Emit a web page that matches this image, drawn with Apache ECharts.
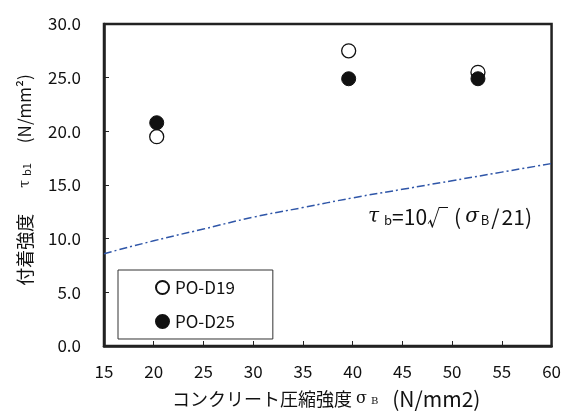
<!DOCTYPE html>
<html>
<head>
<meta charset="utf-8">
<script src="https://cdn.jsdelivr.net/npm/echarts@6/dist/echarts.min.js"></script>
<style>
  html, body { margin: 0; padding: 0; background: #fff; }
  #main { width: 564px; height: 419px; }
</style>
</head>
<body>
<div id="main"></div>
<script>
// 読み取り値
var d19X = [20.3, 39.6, 52.6];
var d19Y = [19.5, 27.5, 25.5];
var d25X = [20.3, 39.6, 52.6];
var d25Y = [20.8, 24.9, 24.9];
// 設計式 τb=10√(σB/21) の線
var curveX = [15, 20, 25, 30, 35, 40, 45, 50, 55, 60];
var curveY = [8.6, 9.8, 10.9, 12.0, 12.9, 13.8, 14.6, 15.4, 16.2, 17.0];

var FONT = "'Noto Sans CJK JP', 'Noto Sans', sans-serif";
var SERIF = "'DejaVu Serif', serif";

function pairs(xs, ys) {
  return xs.map(function (x, i) { return [x, ys[i]]; });
}

var myChart = echarts.init(document.getElementById('main'));
myChart.setOption({
  animation: false,
  backgroundColor: '#fff',
  grid: {
    left: 104, right: 11, top: 24, bottom: 73,
    show: true,
    borderColor: '#222',
    borderWidth: 2.5
  },
  xAxis: {
    type: 'value',
    min: 15, max: 60, interval: 5,
    axisLine: { show: true, lineStyle: { color: '#222', width: 2.5 } },
    axisTick: { show: true, inside: true, length: 5, lineStyle: { color: '#222' } },
    axisLabel: { color: '#111', fontSize: 17, fontFamily: FONT, margin: 17 },
    splitLine: { show: false }
  },
  yAxis: {
    type: 'value',
    min: 0, max: 30, interval: 5,
    axisLine: { show: true, lineStyle: { color: '#222', width: 2.5 } },
    axisTick: { show: true, inside: true, length: 5, lineStyle: { color: '#222' } },
    axisLabel: {
      color: '#111', fontSize: 17, fontFamily: FONT, margin: 23,
      formatter: function (v) { return v.toFixed(1); }
    },
    splitLine: { show: false }
  },
  legend: {
    orient: 'vertical',
    left: 118, top: 270,
    padding: [9, 38, 9, 37],
    backgroundColor: '#fff',
    borderColor: '#333',
    borderWidth: 1,
    borderRadius: 0,
    itemWidth: 13, itemHeight: 13, itemGap: 17,
    textStyle: { fontSize: 17, fontFamily: FONT, color: '#111', padding: [0, 0, 0, 1] },
    data: ['PO-D19', 'PO-D25'],
    z: 10
  },
  series: [
    {
      name: '設計式',
      type: 'line',
      data: pairs(curveX, curveY),
      smooth: true,
      showSymbol: false,
      lineStyle: { color: '#2f56a8', width: 1.5, type: [8, 3, 2, 3] },
      z: 1
    },
    {
      name: 'PO-D19',
      type: 'scatter',
      symbol: 'circle',
      symbolSize: 14,
      data: pairs(d19X, d19Y),
      itemStyle: { color: '#fff', borderColor: '#111', borderWidth: 1.3, opacity: 1 },
      z: 2
    },
    {
      name: 'PO-D25',
      type: 'scatter',
      symbol: 'circle',
      symbolSize: 14,
      data: pairs(d25X, d25Y),
      itemStyle: { color: '#111', borderColor: '#111', borderWidth: 1, opacity: 1 },
      z: 3
    }
  ],
  graphic: [
    {
      type: 'text',
      x: 368, y: 217,
      style: {
        text: '{t|τ}{s|b}{n|=10√}{n2|(}{t|σ}{s2|B}{sl|/}{n|21)}',
        verticalAlign: 'middle',
        rich: {
          t: { fontSize: 20, fontFamily: SERIF, fontStyle: 'italic', fill: '#111' },
          s: { fontSize: 13, fontFamily: FONT, fill: '#111', padding: [6, 0, 0, 5] },
          s2: { fontSize: 13, fontFamily: FONT, fill: '#111', padding: [6, 0, 0, 2] },
          n: { fontSize: 21, fontFamily: FONT, fill: '#111' },
          n2: { fontSize: 21, fontFamily: FONT, fill: '#111', padding: [0, 4, 0, 6] },
          sl: { fontSize: 21, fontFamily: FONT, fill: '#111', padding: [0, 2, 0, 2] }
        }
      },
      z: 60
    },
    {
      type: 'text',
      x: 25, y: 180,
      rotation: Math.PI / 2,
      style: {
        text: '{n|付着強度}{t|τ}{s|b1}{p|(N/mm²)}',
        align: 'center',
        verticalAlign: 'middle',
        rich: {
          n: { fontSize: 18, fontFamily: FONT, fill: '#111' },
          t: { fontSize: 14, fontFamily: SERIF, fill: '#111', padding: [0, 0, 0, 26] },
          s: { fontSize: 11, fontFamily: FONT, fill: '#111', padding: [4, 0, 0, 4] },
          p: { fontSize: 17, fontFamily: FONT, fill: '#111', padding: [0, 0, 0, 20] }
        }
      }
    },
    {
      type: 'text',
      x: 172, y: 399,
      style: {
        text: '{n|コンクリート圧縮強度}{t|σ}{s|B}{p|(N/mm2)}',
        align: 'left',
        verticalAlign: 'middle',
        rich: {
          n: { fontSize: 18, fontFamily: FONT, fill: '#111' },
          t: { fontSize: 16, fontFamily: SERIF, fill: '#111', padding: [0, 0, 0, 4] },
          s: { fontSize: 10, fontFamily: SERIF, fill: '#111', padding: [5, 0, 0, 4] },
          p: { fontSize: 21, fontFamily: FONT, fill: '#111', padding: [0, 0, 0, 14] }
        }
      }
    }
  ]
});
</script>
</body>
</html>
